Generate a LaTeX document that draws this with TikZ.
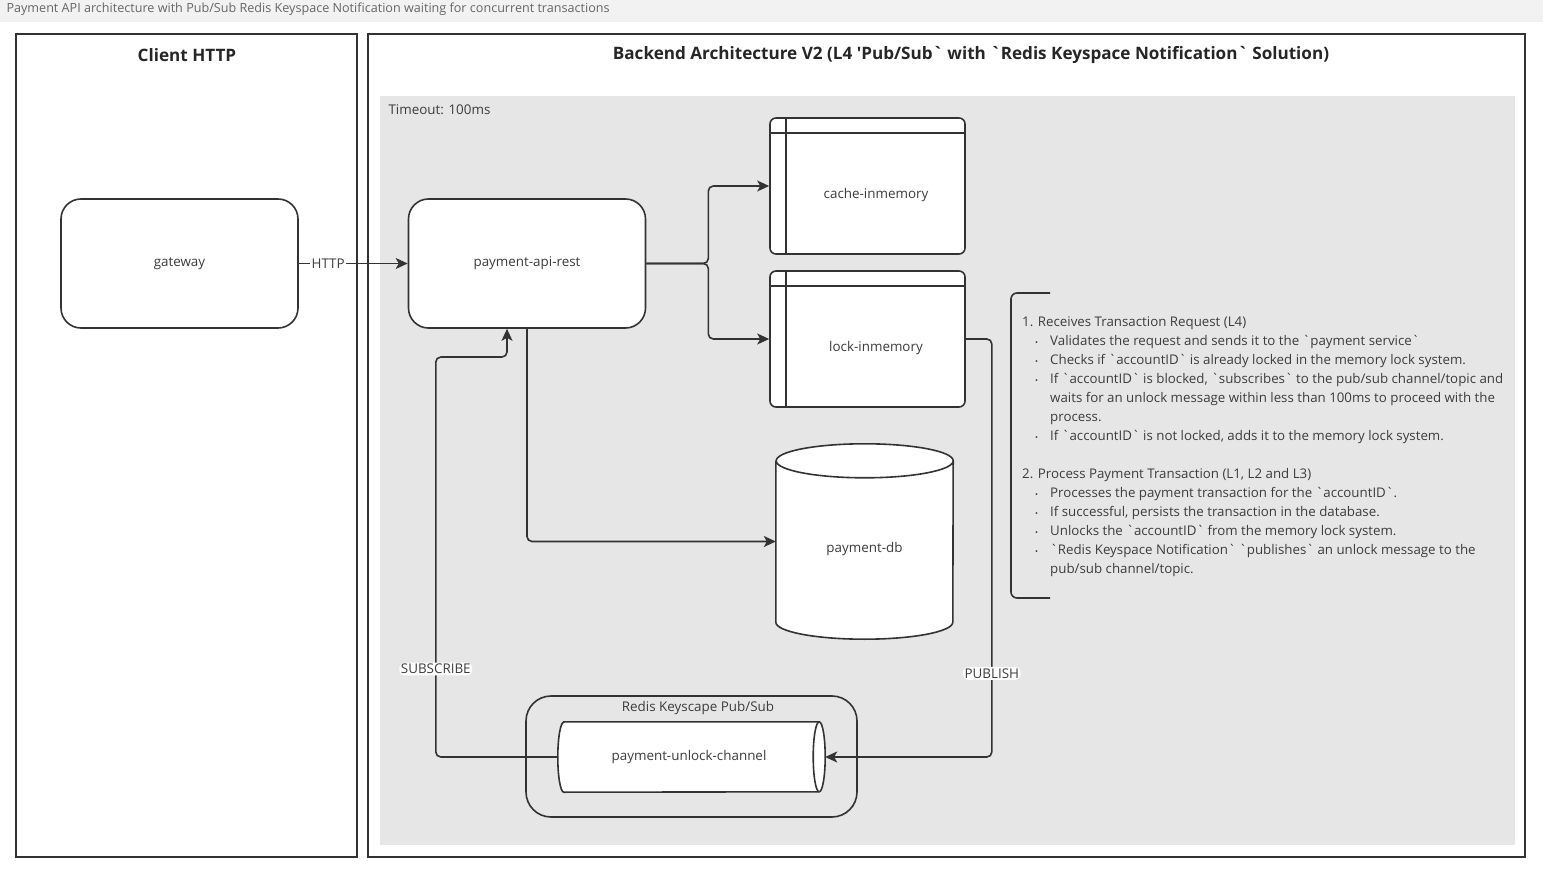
\documentclass[tikz,border=0pt]{standalone}
\usepackage{fontspec}
\setmainfont{Open Sans}[Ligatures=TeXOff]
\usetikzlibrary{arrows.meta}
\definecolor{ink}{HTML}{333333}
\definecolor{txt}{HTML}{3C3C3C}
\definecolor{zone}{HTML}{E6E6E6}
\definecolor{bar}{HTML}{F2F2F2}
\newcommand{\itm}{\hspace*{13pt}\makebox[15pt][l]{\footnotesize\textbullet}}
\newcommand{\cont}{\hspace*{28pt}}
\begin{document}
\begin{tikzpicture}[x=1pt,y=-1pt,
  every node/.style={text=txt, font=\fontsize{13.4}{16}\selectfont},
  box/.style={draw=ink, line width=1.6pt, fill=white, rounded corners=20pt, minimum width=237pt, minimum height=129pt},
  store/.style={draw=ink, line width=1.6pt, fill=white, rounded corners=6pt, minimum width=195pt, minimum height=136pt},
  cyl/.style={draw=ink, line width=1.6pt, fill=white},
  link/.style={draw=ink, line width=1.6pt, rounded corners=5pt, -{Stealth[length=12pt,width=11pt,inset=3pt]}},
  lbl/.style={fill=white, inner sep=1.5pt},
  heading/.style={text=black!85, font=\fontsize{17.1}{20}\bfseries\selectfont},
  notes/.style={align=left, inner sep=0pt, font=\fontsize{13.3}{19}\selectfont}]
\useasboundingbox (0,0) rectangle (1543,877);
\fill[white] (0,0) rectangle (1543,877);
\fill[bar] (0,0) rectangle (1543,22);
\node[anchor=west, text=black!60, font=\fontsize{12.6}{15}\selectfont] (caption) at (3,9) {Payment API architecture with Pub/Sub Redis Keyspace Notification waiting for concurrent transactions};
% frames
\draw[ink, line width=1.6pt] (16,34) rectangle (357,857);
\draw[ink, line width=1.6pt] (368,34) rectangle (1525,857);
\fill[zone] (380,96) rectangle (1515,845);
\node[heading] (clientTitle) at (187,55) {Client HTTP};
\node[heading] (backendTitle) at (971,55) {Backend Architecture V2 (L4 'Pub/Sub` with `Redis Keyspace Notification` Solution)};
\node[anchor=west] (timeout) at (385,109.5) {Timeout: 100ms};
% services
\node[box] (gateway) at (179.5,263.5){gateway};
\node[box] (api) at (527,263.5){payment-api-rest};
\node[store, label={[xshift=8.5pt, yshift=-9.5pt]center:cache-inmemory}] (cache) at (867.5,186){};
\node[store, label={[xshift=8.5pt, yshift=-9.5pt]center:lock-inmemory}] (lock) at (867.5,339){};
\draw[ink, line width=1.6pt] ([yshift=-16pt]cache.north west) -- ([yshift=-16pt]cache.north east);
\draw[ink, line width=1.6pt] ([xshift=17pt]cache.north west) -- ([xshift=17pt]cache.south west);
\draw[ink, line width=1.6pt] ([yshift=-16pt]lock.north west) -- ([yshift=-16pt]lock.north east);
\draw[ink, line width=1.6pt] ([xshift=17pt]lock.north west) -- ([xshift=17pt]lock.south west);
% database
\node[minimum width=177pt, minimum height=195pt, inner sep=0pt] (db) at (864.5,541.5){};
\draw[cyl] ([yshift=-17pt]db.north west) -- ([yshift=17pt]db.south west)
  arc[start angle=180, end angle=360, x radius=88.5pt, y radius=17pt] -- ([yshift=-17pt]db.north east)
  arc[start angle=0, end angle=180, x radius=88.5pt, y radius=17pt]
  arc[start angle=180, end angle=360, x radius=88.5pt, y radius=17pt];
\node[] (dbText) at ([yshift=-7.5pt]db.center){payment-db};
% pub/sub
\node[draw=ink, line width=1.6pt, rounded corners=25pt, minimum width=331pt, minimum height=121pt] (pubsub) at (691.5,756.5){};
\node[] (pubsubTitle) at (698,708){Redis Keyscape Pub/Sub};
\node[minimum width=267pt, minimum height=70pt, inner sep=0pt] (channel) at (691.5,757){};
\draw[cyl] ([xshift=6pt]channel.north west) -- ([xshift=-6pt]channel.north east)
  arc[start angle=90, end angle=-90, x radius=6pt, y radius=35pt] -- ([xshift=6pt]channel.south west)
  arc[start angle=270, end angle=90, x radius=6pt, y radius=35pt] -- cycle;
\draw[cyl] ([xshift=-6pt]channel.north east) arc[start angle=90, end angle=270, x radius=6pt, y radius=35pt];
\node[] (channelText) at ([xshift=-2.5pt]channel.center){payment-unlock-channel};
% connectors
\draw[link](gateway) -- node[lbl, pos=0.27]{HTTP} (api);
\draw[link](api.east) -- ++(62,0) |- (cache.west);
\draw[link](api.east) -- ++(62,0) |- (lock.west);
\draw[link](api.south) |- (db.west);
\draw[link](lock.east) -- ++(26,0) |- node[lbl, pos=0.4]{PUBLISH} (channel.east);
\draw[link](channel.west) -| node[lbl, pos=0.61]{SUBSCRIBE} ++(-122,-400) -| ([xshift=-20pt]api.south);
% steps
\draw[ink, line width=1.6pt, rounded corners=6pt] (1050,293) -| (1011,598) -- (1050,598);
\node[notes, anchor=north west] (steps) at (1022,317){1. Receives Transaction Request (L4)\\
\itm Validates the request and sends it to the `payment service`\\
\itm Checks if `accountID` is already locked in the memory lock system.\\
\itm If `accountID` is blocked, `subscribes` to the pub/sub channel/topic and\\
\cont waits for an unlock message within less than 100ms to proceed with the\\
\cont process.\\
\itm If `accountID` is not locked, adds it to the memory lock system.\\[19pt]
2. Process Payment Transaction (L1, L2 and L3)\\
\itm Processes the payment transaction for the `accountID`.\\
\itm If successful, persists the transaction in the database.\\
\itm Unlocks the `accountID` from the memory lock system.\\
\itm `Redis Keyspace Notification` `publishes` an unlock message to the\\
\cont pub/sub channel/topic.};
\end{tikzpicture}
\end{document}
